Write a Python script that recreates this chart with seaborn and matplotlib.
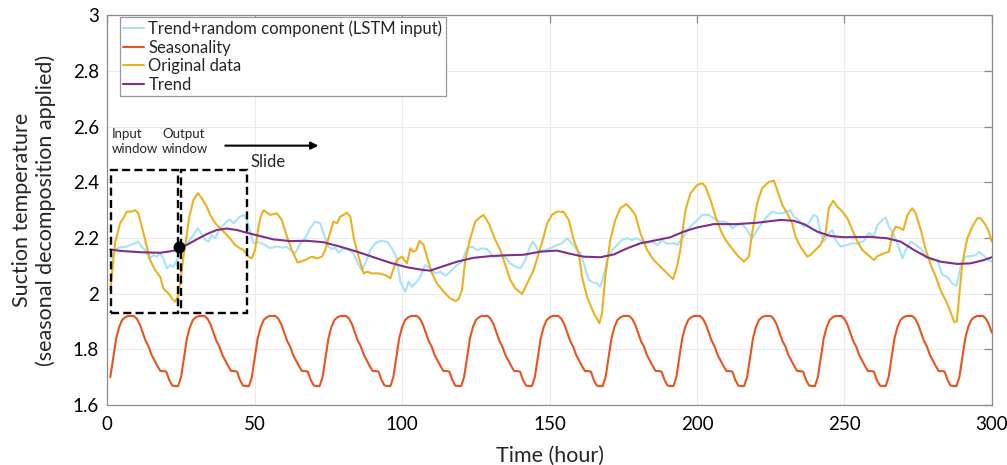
import numpy as np
import pandas as pd
import matplotlib
matplotlib.use("Agg")
import matplotlib.pyplot as plt
from matplotlib.patches import Rectangle
import seaborn as sns

# ---------------- data ----------------
hours = np.arange(1, 301)

# daily seasonal profile (hours 1..24 of each day)
season_profile = [1.700, 1.770, 1.840, 1.880, 1.905, 1.915, 1.920, 1.920,
                  1.920, 1.910, 1.890, 1.860, 1.830, 1.810, 1.780, 1.760,
                  1.740, 1.722, 1.722, 1.720, 1.690, 1.670, 1.668, 1.668]
seasonality = np.tile(season_profile, 13)[:len(hours)]

orig_h = [1, 2.6, 4.3, 5.4, 6.6, 8.3, 9.4, 10.5, 11.7, 13.4, 14.5, 16.2, 17.9, 19.0,
          20.7, 21.9, 23.0, 23.9, 24.7, 25.8, 26.7, 27.8, 29.2, 30.7, 32.0, 33.7,
          34.9, 36.6, 38.3, 40.0, 41.6, 43.3, 45.0, 46.2, 47.9, 49.0, 50.1, 51.3,
          52.0, 53.0, 55.2, 57.5, 59.2, 60.9, 62.6, 64.5, 67.1, 69.4, 71.1, 72.8,
          73.9, 75.0, 76.7, 77.9, 79.0, 80.1, 81.3, 82.4, 83.5, 85.2, 86.9, 88.1,
          89.7, 92.0, 94.3, 96.0, 97.1, 98.2, 99.9, 101.6, 102.8, 103.7, 104.8,
          105.9, 107.3, 108.4, 110.1, 111.8, 114.1, 116.3, 118.0, 119.1, 120.3,
          121.4, 123.1, 124.8, 126.5, 127.6, 129.5, 131.6, 133.3, 135.0, 136.7,
          138.4, 140.7, 142.4, 144.6, 146.3, 148.0, 149.2, 150.8, 152.5, 154.8,
          156.5, 158.2, 159.9, 161.0, 162.7, 165.0, 166.9, 167.8, 168.9, 170.6,
          172.3, 174.0, 176.0, 177.4, 179.1, 180.8, 183.1, 185.3, 187.6, 189.9,
          191.9, 193.3, 194.4, 195.0, 196.1, 197.8, 200.1, 201.8, 202.9, 204.6,
          206.3, 208.0, 209.7, 211.4, 213.6, 215.9, 217.6, 218.7, 220.4, 222.1,
          224.4, 226.1, 227.2, 228.9, 230.6, 232.3, 233.4, 235.1, 237.4, 238.5,
          240.2, 241.9, 243.6, 244.7, 246.2, 247.6, 249.3, 251.0, 252.7, 254.4,
          256.1, 258.3, 260.0, 261.2, 263.4, 265.1, 266.3, 267.4, 269.1, 270.0,
          271.4, 273.0, 274.2, 275.9, 277.6, 279.3, 281.0, 282.6, 284.3, 286.0,
          287.2, 288.1, 288.9, 290.0, 291.7, 293.4, 295.1, 296.2, 297.9, 299.0, 300.0]
orig_v = [2.013, 2.181, 2.253, 2.271, 2.295, 2.295, 2.300, 2.289, 2.241, 2.169, 2.121,
          2.085, 2.061, 2.019, 2.001, 1.983, 1.971, 1.989, 2.037, 2.133, 2.193, 2.277,
          2.337, 2.361, 2.343, 2.313, 2.283, 2.253, 2.235, 2.217, 2.199, 2.175, 2.163,
          2.157, 2.133, 2.127, 2.157, 2.241, 2.277, 2.300, 2.283, 2.289, 2.265, 2.205,
          2.157, 2.112, 2.121, 2.133, 2.127, 2.133, 2.157, 2.199, 2.259, 2.253, 2.277,
          2.283, 2.291, 2.277, 2.205, 2.133, 2.073, 2.079, 2.073, 2.073, 2.067, 2.055,
          2.091, 2.121, 2.133, 2.109, 2.163, 2.151, 2.157, 2.190, 2.175, 2.133, 2.073,
          2.037, 2.007, 1.983, 1.974, 1.980, 2.013, 2.121, 2.199, 2.259, 2.275, 2.283,
          2.250, 2.193, 2.157, 2.103, 2.049, 2.019, 1.999, 2.037, 2.085, 2.145, 2.205,
          2.253, 2.283, 2.295, 2.294, 2.265, 2.193, 2.145, 2.061, 1.989, 1.930, 1.894,
          1.930, 2.061, 2.193, 2.265, 2.307, 2.322, 2.307, 2.283, 2.217, 2.157, 2.121,
          2.097, 2.073, 2.052, 2.100, 2.160, 2.217, 2.300, 2.361, 2.391, 2.397, 2.384,
          2.337, 2.277, 2.229, 2.193, 2.169, 2.139, 2.115, 2.133, 2.217, 2.325, 2.379,
          2.402, 2.406, 2.373, 2.319, 2.289, 2.253, 2.205, 2.169, 2.133, 2.139, 2.157,
          2.175, 2.217, 2.307, 2.334, 2.313, 2.295, 2.271, 2.229, 2.187, 2.157, 2.137,
          2.121, 2.135, 2.145, 2.151, 2.217, 2.241, 2.235, 2.229, 2.283, 2.307, 2.289,
          2.229, 2.157, 2.103, 2.061, 2.013, 1.977, 1.935, 1.899, 1.899, 1.989, 2.109,
          2.199, 2.241, 2.271, 2.271, 2.247, 2.223, 2.187]

resid_h = [1.5, 2.6, 4.3, 6.0, 7.7, 9.4, 10.5, 11.7, 12.8, 14.3, 15.6, 16.8, 17.9, 19.0,
           20.2, 21.3, 22.4, 23.6, 25.3, 26.4, 27.5, 29.2, 30.6, 31.5, 33.2, 34.3, 35.4,
           36.6, 37.7, 39.4, 40.5, 41.6, 42.8, 43.9, 45.0, 46.4, 47.3, 48.4, 49.6, 50.7,
           53.5, 55.2, 57.5, 59.5, 60.9, 62.0, 63.7, 65.4, 67.1, 68.8, 70.5, 72.2, 73.3,
           75.0, 76.2, 77.3, 78.4, 80.1, 81.8, 83.5, 85.2, 86.3, 87.5, 89.2, 90.9, 92.6,
           94.8, 96.5, 98.0, 99.4, 101.1, 102.2, 103.3, 105.0, 106.1, 107.8, 109.5,
           111.2, 112.9, 114.6, 116.3, 118.6, 120.3, 122.0, 123.7, 125.4, 127.1, 128.8,
           131.0, 132.7, 134.4, 136.7, 138.4, 140.1, 141.8, 142.9, 144.3, 145.2, 146.3,
           148.6, 150.3, 152.5, 154.2, 155.9, 157.6, 159.3, 160.5, 161.6, 163.3, 165.0,
           166.1, 167.2, 168.1, 169.5, 171.2, 172.9, 174.6, 176.3, 178.0, 179.7, 181.4,
           183.1, 184.8, 186.5, 188.2, 189.9, 192.1, 193.3, 195.0, 196.7, 198.4, 200.1,
           201.8, 204.0, 205.7, 207.4, 209.1, 210.8, 211.9, 213.6, 215.3, 217.0, 218.7,
           220.4, 222.1, 223.8, 225.5, 227.2, 228.9, 230.6, 231.7, 232.8, 234.5, 236.2,
           237.9, 239.6, 240.8, 241.9, 243.0, 244.7, 245.9, 247.0, 248.7, 251.0, 252.7,
           254.4, 256.6, 258.3, 260.0, 261.2, 262.9, 264.0, 265.1, 266.3, 268.0, 269.7,
           270.8, 272.5, 274.2, 275.9, 277.6, 279.3, 281.5, 283.2, 284.9, 286.6, 288.1,
           289.4, 291.1, 292.8, 294.6, 295.7, 297.4, 299.0, 300.0]
resid_v = [2.127, 2.159, 2.167, 2.167, 2.175, 2.181, 2.187, 2.167, 2.157, 2.124, 2.139,
           2.133, 2.145, 2.127, 2.091, 2.103, 2.097, 2.121, 2.151, 2.171, 2.187, 2.211,
           2.235, 2.223, 2.193, 2.187, 2.211, 2.199, 2.226, 2.247, 2.259, 2.267, 2.253,
           2.265, 2.277, 2.283, 2.265, 2.223, 2.181, 2.187, 2.175, 2.163, 2.170, 2.165,
           2.169, 2.157, 2.145, 2.181, 2.199, 2.235, 2.259, 2.253, 2.217, 2.169, 2.160,
           2.165, 2.147, 2.163, 2.157, 2.145, 2.103, 2.085, 2.109, 2.157, 2.181, 2.190,
           2.187, 2.163, 2.133, 2.043, 2.007, 2.043, 2.025, 2.043, 2.061, 2.103, 2.091,
           2.073, 2.079, 2.064, 2.079, 2.103, 2.115, 2.163, 2.169, 2.157, 2.163, 2.160,
           2.133, 2.135, 2.139, 2.109, 2.097, 2.091, 2.121, 2.157, 2.187, 2.175, 2.151,
           2.157, 2.163, 2.175, 2.181, 2.199, 2.181, 2.157, 2.145, 2.109, 2.049, 2.039,
           2.037, 2.025, 2.055, 2.121, 2.157, 2.175, 2.193, 2.199, 2.193, 2.199, 2.187,
           2.181, 2.187, 2.175, 2.191, 2.180, 2.181, 2.175, 2.199, 2.229, 2.247, 2.265,
           2.283, 2.283, 2.271, 2.259, 2.259, 2.253, 2.235, 2.247, 2.250, 2.229, 2.199,
           2.229, 2.253, 2.277, 2.295, 2.289, 2.289, 2.295, 2.300, 2.277, 2.265, 2.241,
           2.253, 2.283, 2.277, 2.217, 2.187, 2.217, 2.229, 2.193, 2.169, 2.175, 2.181,
           2.180, 2.190, 2.219, 2.205, 2.247, 2.265, 2.274, 2.241, 2.223, 2.181, 2.127,
           2.157, 2.187, 2.175, 2.163, 2.133, 2.121, 2.121, 2.067, 2.061, 2.037, 2.028,
           2.097, 2.133, 2.135, 2.139, 2.151, 2.135, 2.121, 2.115]

trend_h = [1, 4.3, 11.1, 17.9, 22.4, 24.7, 26.9, 30.3, 33.7, 37.1, 40.5, 43.9, 47.3,
           51.8, 56.4, 62.0, 67.7, 73.3, 79.0, 84.7, 90.3, 96.0, 101.6, 107.3, 109.5,
           112.9, 118.6, 124.2, 129.9, 135.0, 141.2, 146.9, 152.5, 157.1, 161.6, 167.2,
           171.8, 176.3, 180.8, 186.5, 191.0, 195.5, 200.1, 205.7, 213.6, 220.4, 228.3,
           232.8, 236.3, 240.8, 245.3, 249.8, 258.9, 264.6, 269.1, 273.6, 278.1, 282.6,
           288.3, 292.8, 297.4, 300.0]
trend_v = [2.159, 2.154, 2.149, 2.147, 2.154, 2.167, 2.175, 2.195, 2.214, 2.229, 2.234,
           2.229, 2.219, 2.207, 2.195, 2.189, 2.190, 2.185, 2.169, 2.151, 2.131, 2.111,
           2.095, 2.085, 2.083, 2.095, 2.115, 2.129, 2.135, 2.138, 2.140, 2.151, 2.155,
           2.143, 2.133, 2.131, 2.141, 2.163, 2.181, 2.193, 2.203, 2.223, 2.238, 2.250,
           2.250, 2.255, 2.265, 2.262, 2.250, 2.223, 2.207, 2.203, 2.204, 2.199, 2.187,
           2.157, 2.131, 2.115, 2.107, 2.109, 2.121, 2.131]

# sliding-window illustration
input_window = (1.1, 24.1)
output_window = (25.0, 47.4)
window_y = (1.93, 2.445)
window_point = (24.3, 2.167)

labels = ["Trend+random component (LSTM input)", "Seasonality", "Original data", "Trend"]
colors = ["#A6E3F7", "#E8531E", "#EDB120", "#7E2F8E"]

x_ticks = [0, 50, 100, 150, 200, 250, 300]
y_ticks = [1.6, 1.8, 2.0, 2.2, 2.4, 2.6, 2.8, 3.0]
y_ticklabels = ["1.6", "1.8", "2", "2.2", "2.4", "2.6", "2.8", "3"]

# ---------------- style ----------------
sns.set_theme(style="whitegrid")
plt.rcParams["font.family"] = ["Lato", "DejaVu Sans"]
plt.rcParams["axes.edgecolor"] = "#8c8c8c"
plt.rcParams["grid.color"] = "#ebebeb"

fig = plt.figure(figsize=(10.07, 4.65), dpi=100)
ax = fig.add_axes([0.1066, 0.1290, 0.8783, 0.8379])

series = [
    (resid_h, resid_v),
    (list(hours), list(seasonality)),
    (orig_h, orig_v),
    (trend_h, trend_v),
]
for (xs, ys), lab, col in zip(series, labels, colors):
    sns.lineplot(x=xs, y=ys, ax=ax, color=col, linewidth=1.5, label=lab,
                 estimator=None, sort=False)

# input / output windows
for (x0, x1) in (input_window, output_window):
    ax.add_patch(Rectangle((x0, window_y[0]), x1 - x0, window_y[1] - window_y[0],
                           fill=False, edgecolor="black", linewidth=1.7,
                           linestyle=(0, (3.4, 1.8)), zorder=5))
ax.plot([window_point[0]], [window_point[1]], marker="o", markersize=7.5,
        color="black", zorder=6)

ax.text(1.5, 2.546, "Input\nwindow", fontsize=9.5, ha="left", va="center",
        linespacing=1.35)
ax.text(18.5, 2.546, "Output\nwindow", fontsize=9.5, ha="left", va="center",
        linespacing=1.35)
ax.annotate("", xy=(71.6, 2.532), xytext=(40.0, 2.532),
            arrowprops=dict(arrowstyle="-|>", color="black", lw=1.5,
                            mutation_scale=11, shrinkA=0, shrinkB=0))
ax.text(54.4, 2.475, "Slide", fontsize=12, ha="center", va="center")

# axes
ax.set_xlim(0, 300)
ax.set_ylim(1.6, 3.0)
ax.set_xticks(x_ticks)
ax.set_yticks(y_ticks)
ax.set_yticklabels(y_ticklabels)
ax.tick_params(axis="both", which="major", direction="in", length=6, width=0.9,
               color="#8c8c8c", labelsize=13.5, labelcolor="black",
               top=True, right=True)
ax.tick_params(axis="x", pad=8)
ax.tick_params(axis="y", pad=6)
ax.grid(True, color="#ebebeb", linewidth=0.8)
for sp in ax.spines.values():
    sp.set_visible(True)
    sp.set_color("#8c8c8c")
    sp.set_linewidth(0.9)

ax.set_xlabel("Time (hour)", fontsize=15.5, labelpad=9)
ax.set_ylabel("Suction temperature\n(seasonal decomposition applied)", fontsize=15.5,
              labelpad=12, linespacing=1.2)

leg = ax.legend(loc="upper left", bbox_to_anchor=(0.0144, 0.995), fontsize=12,
                frameon=True, fancybox=False, framealpha=1, edgecolor="#999999",
                handlelength=1.25, handletextpad=0.25, labelspacing=0.15,
                borderpad=0.2, borderaxespad=0)
leg.get_frame().set_linewidth(0.9)

fig.savefig("out.png", dpi=100)
